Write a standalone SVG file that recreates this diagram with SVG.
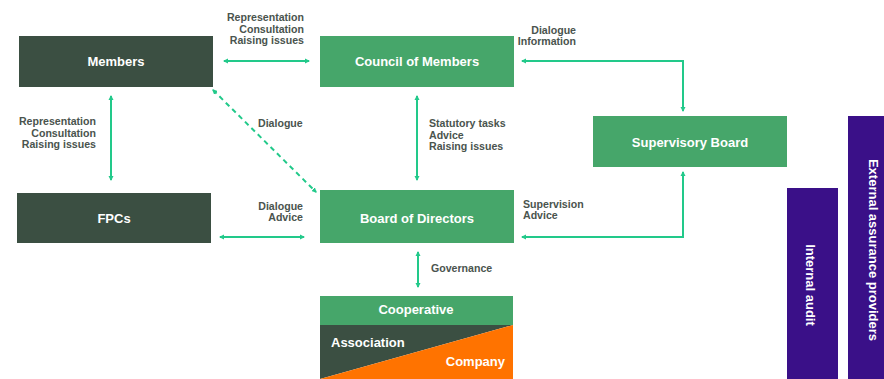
<svg xmlns="http://www.w3.org/2000/svg" width="884" height="379" viewBox="0 0 884 379">
<defs>
<marker id="ah" viewBox="0 0 10 10" refX="8" refY="5" markerWidth="2.6" markerHeight="2.6" orient="auto-start-reverse" markerUnits="strokeWidth">
<path d="M0,0 L10,5 L0,10 z" fill="#22c98a"/>
</marker>
<style>
.dark{fill:#3b4f42}
.green{fill:#46a66a}
.purple{fill:#3a1088}
.nt{font-family:"Liberation Sans",Arial,sans-serif;font-weight:bold;font-size:13px;fill:#ffffff;text-anchor:middle}
.lb{font-family:"Liberation Sans",Arial,sans-serif;font-weight:bold;font-size:10.6px;fill:#4a544e}
.r{text-anchor:end}
.conn{fill:none;stroke:#22c98a;stroke-width:2;marker-start:url(#ah);marker-end:url(#ah)}
</style>
</defs>
<rect width="884" height="379" fill="#ffffff"/>

<g id="members"><rect class="dark" x="19" y="36" width="194" height="51"/><text class="nt" x="116" y="66">Members</text></g>
<g id="council"><rect class="green" x="320" y="36" width="194" height="51"/><text class="nt" x="417" y="66">Council of Members</text></g>
<g id="supervisory"><rect class="green" x="593" y="116" width="194" height="51"/><text class="nt" x="690" y="147">Supervisory Board</text></g>
<g id="fpcs"><rect class="dark" x="17" y="193" width="194" height="50"/><text class="nt" x="114" y="223">FPCs</text></g>
<g id="board"><rect class="green" x="320" y="190" width="194" height="53"/><text class="nt" x="417" y="223">Board of Directors</text></g>
<g id="cooperative">
<rect class="green" x="320" y="296" width="193" height="29"/>
<polygon class="dark" points="320,325 513,325 320,379"/>
<polygon fill="#ff7300" points="513,325 513,379 320,379"/>
<text class="nt" x="416" y="314">Cooperative</text>
<text class="nt" x="331" y="347" style="text-anchor:start">Association</text>
<text class="nt" x="505" y="366" style="text-anchor:end">Company</text>
</g>
<g id="internal-audit"><rect class="purple" x="787" y="188" width="51" height="191"/><text class="nt" transform="translate(806,285) rotate(90)">Internal audit</text></g>
<g id="external"><rect class="purple" x="848" y="116" width="36" height="263"/><text class="nt" transform="translate(869,250) rotate(90)">External assurance providers</text></g>

<g id="connectors">
<path class="conn" d="M224 61 H309"/>
<path class="conn" d="M111 96 V180"/>
<path class="conn" d="M213 90 L316 192" stroke-dasharray="5 4"/>
<path class="conn" d="M417 96 V180"/>
<path class="conn" d="M522 61 H683 V111"/>
<path class="conn" d="M683 172 V237 H522"/>
<path class="conn" d="M220 237 H304"/>
<path class="conn" d="M418 252 V287"/>
</g>

<g id="labels">
<text class="lb r" x="304"><tspan x="304" y="21">Representation</tspan><tspan x="304" y="32.5">Consultation</tspan><tspan x="304" y="44">Raising issues</tspan></text>
<text class="lb r" x="96"><tspan x="96" y="125">Representation</tspan><tspan x="96" y="136.5">Consultation</tspan><tspan x="96" y="148">Raising issues</tspan></text>
<text class="lb" x="258" y="127">Dialogue</text>
<text class="lb"><tspan x="429" y="127">Statutory tasks</tspan><tspan x="429" y="138.5">Advice</tspan><tspan x="429" y="150">Raising issues</tspan></text>
<text class="lb r"><tspan x="576" y="33.5">Dialogue</tspan><tspan x="576" y="44.5">Information</tspan></text>
<text class="lb r"><tspan x="303" y="210">Dialogue</tspan><tspan x="303" y="221">Advice</tspan></text>
<text class="lb"><tspan x="523" y="207.5">Supervision</tspan><tspan x="523" y="219">Advice</tspan></text>
<text class="lb" x="431" y="272">Governance</text>
</g>
</svg>
